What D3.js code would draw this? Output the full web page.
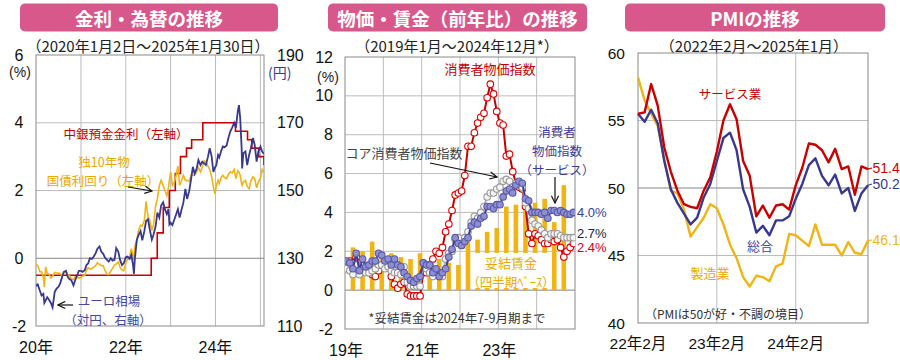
<!DOCTYPE html>
<html><head><meta charset="utf-8">
<script src="https://cdn.jsdelivr.net/npm/d3@7"></script>
<style>body{margin:0;background:#fff}svg{display:block}</style>
</head><body>
<script>
// ===================== DATA =====================
// Panel 1: daily data sampled (semi-monthly reading of the chart)
const fxDates = [
"2020-01-02","2020-01-15","2020-02-01","2020-02-15","2020-03-01","2020-03-09","2020-03-19","2020-04-01","2020-04-15","2020-05-01","2020-05-15","2020-06-01","2020-06-15","2020-07-01","2020-07-15","2020-08-01","2020-08-15","2020-09-01","2020-09-15","2020-10-01","2020-10-15","2020-11-01","2020-11-15","2020-12-01","2020-12-15",
"2021-01-01","2021-01-15","2021-02-01","2021-02-15","2021-03-01","2021-03-15","2021-04-01","2021-04-15","2021-05-01","2021-05-15","2021-06-01","2021-06-15","2021-07-01","2021-07-15","2021-08-01","2021-08-15","2021-09-01","2021-09-15","2021-10-01","2021-10-15","2021-11-01","2021-11-15","2021-12-01","2021-12-15",
"2022-01-01","2022-01-15","2022-02-01","2022-02-15","2022-03-01","2022-03-08","2022-03-15","2022-04-01","2022-04-15","2022-05-01","2022-05-15","2022-06-01","2022-06-15","2022-07-01","2022-07-15","2022-08-01","2022-08-15","2022-09-01","2022-09-15","2022-10-01","2022-10-15","2022-11-01","2022-11-15","2022-12-01","2022-12-15","2022-12-22",
"2023-01-01","2023-01-15","2023-02-01","2023-02-15","2023-03-01","2023-03-15","2023-04-01","2023-04-15","2023-05-01","2023-05-15","2023-06-01","2023-06-15","2023-07-01","2023-07-15","2023-08-01","2023-08-15","2023-09-01","2023-09-15","2023-10-01","2023-10-15","2023-11-01","2023-11-15","2023-12-01","2023-12-15","2023-12-28",
"2024-01-08","2024-01-22","2024-02-01","2024-02-15","2024-03-01","2024-03-15","2024-04-01","2024-04-15","2024-05-01","2024-05-15","2024-06-01","2024-06-15","2024-07-01","2024-07-10","2024-07-20","2024-08-01","2024-08-05","2024-08-15","2024-09-01","2024-09-15","2024-10-01","2024-10-15","2024-11-01","2024-11-15","2024-12-01","2024-12-15",
"2025-01-01","2025-01-15","2025-01-30"];
const eurJpy = [
121.8,122.3,120.5,119.0,119.5,116.8,117.5,118.5,117.8,116.8,115.5,120.0,121.0,121.5,122.5,124.5,126.0,126.3,124.5,123.8,123.5,122.0,123.5,125.0,126.3,
126.3,126.0,126.5,128.0,128.5,130.0,129.8,130.5,131.5,132.8,133.5,132.0,131.3,130.2,129.5,129.0,130.0,129.3,129.5,133.0,132.0,129.5,128.0,128.5,
130.3,130.5,129.8,131.0,128.0,125.4,129.5,135.5,136.8,138.0,135.3,138.0,141.0,141.5,138.5,135.5,137.0,139.5,143.5,142.0,145.5,146.5,144.5,143.0,144.5,140.0,
140.5,139.8,141.5,143.0,144.5,142.0,144.5,146.5,150.5,147.5,149.8,153.0,157.0,155.0,156.5,159.0,157.5,158.5,158.0,157.5,160.0,162.5,160.0,155.5,156.8,
157.5,160.5,159.8,161.5,163.0,162.8,163.3,165.5,167.5,168.5,170.0,168.5,173.5,175.2,171.5,162.5,156.5,161.0,161.5,157.5,160.5,162.5,165.5,163.5,158.5,161.5,
163.0,161.5,160.8];
const bund10y = [
-0.19,-0.21,-0.40,-0.40,-0.58,-0.85,-0.25,-0.45,-0.47,-0.58,-0.53,-0.42,-0.43,-0.44,-0.45,-0.53,-0.42,-0.40,-0.49,-0.53,-0.60,-0.63,-0.55,-0.55,-0.59,
-0.57,-0.53,-0.50,-0.35,-0.28,-0.32,-0.30,-0.26,-0.22,-0.13,-0.18,-0.22,-0.22,-0.35,-0.47,-0.48,-0.38,-0.30,-0.20,-0.17,-0.11,-0.27,-0.35,-0.37,
-0.14,-0.04,0.05,0.28,0.05,-0.05,0.35,0.55,0.83,0.97,0.95,1.12,1.68,1.22,1.13,0.82,1.00,1.55,1.75,2.15,2.30,2.15,2.00,1.85,2.10,2.30,
2.55,2.15,2.25,2.45,2.72,2.15,2.30,2.45,2.30,2.30,2.27,2.45,2.45,2.45,2.55,2.68,2.55,2.68,2.88,2.85,2.72,2.62,2.40,2.10,1.90,
2.15,2.30,2.20,2.38,2.45,2.38,2.35,2.48,2.55,2.52,2.62,2.35,2.58,2.55,2.45,2.20,2.15,2.25,2.30,2.12,2.05,2.28,2.40,2.35,2.08,2.25,
2.36,2.62,2.52];
const depoDates = ["2020-01-01","2022-07-27","2022-09-14","2022-11-02","2022-12-21","2023-02-08","2023-03-22","2023-05-10","2023-06-21","2023-09-20","2024-06-12","2024-09-18","2024-10-23","2024-12-18","2025-01-30"];
const depoRate  = [-0.5,0,0.75,1.5,2.0,2.5,3.0,3.25,3.5,4.0,3.75,3.5,3.25,3.0,2.75];
const p1LeftTicks = [-2,0,2,4,6];
const p1RightTicks = [110,130,150,170,190];
const p1XYears = [2020,2022,2024];
const p1XLabels = ["20年","22年","24年"];

// Panel 2: monthly 2019-01 .. 2024-12 (y/y %)
const cpi = [1.4,1.5,1.4,1.7,1.2,1.3,1.0,1.0,0.8,0.7,1.0,1.3,
 1.4,1.2,0.7,0.3,0.1,0.3,0.4,-0.2,-0.3,-0.3,-0.3,-0.3,
 0.9,0.9,1.3,1.6,2.0,1.9,2.2,3.0,3.4,4.1,4.9,5.0,
 5.1,5.9,7.4,7.4,8.1,8.6,8.9,9.1,9.9,10.6,10.1,9.2,
 8.6,8.5,6.9,7.0,6.1,5.5,5.3,5.2,4.3,2.9,2.4,2.9,
 2.8,2.6,2.4,2.4,2.6,2.5,2.6,2.2,1.7,2.0,2.2,2.4];
const coreCpi = [1.1,1.0,0.8,1.3,0.8,1.1,0.9,0.9,1.0,1.1,1.3,1.3,
 1.1,1.2,1.0,0.9,0.9,0.8,1.2,0.4,0.2,0.2,0.2,0.2,
 1.4,1.1,0.9,0.7,1.0,0.9,0.7,1.6,1.9,2.0,2.6,2.7,
 2.3,2.7,3.0,3.5,3.8,3.7,4.0,4.3,4.8,5.0,5.0,5.2,
 5.3,5.6,5.7,5.6,5.3,5.5,5.5,5.3,4.5,4.2,3.6,3.4,
 3.3,3.1,2.9,2.7,2.9,2.9,2.9,2.8,2.7,2.7,2.7,2.7];
const servCpi = [1.5,1.4,1.1,1.9,1.0,1.6,1.2,1.3,1.5,1.5,1.9,1.8,
 1.5,1.6,1.3,1.6,1.3,1.2,0.9,0.7,0.5,0.4,0.6,0.7,
 1.4,1.3,1.3,0.9,1.1,0.7,0.9,1.1,1.7,2.1,2.7,2.4,
 2.3,2.5,2.7,3.3,3.5,3.4,3.7,3.8,4.3,4.3,4.2,4.4,
 4.4,4.8,5.1,5.2,5.0,5.4,5.6,5.5,4.7,4.6,4.0,4.0,
 4.0,3.9,4.0,3.7,4.1,4.1,4.0,4.1,4.0,3.9,3.9,4.0];
// quarterly negotiated wages 2019Q1 .. 2024Q3
const wages = [2.2,2.0,2.5,1.9, 1.9,1.7,1.6,1.9, 1.5,1.6,1.4,1.3, 2.8,2.6,3.0,3.2, 4.3,4.4,4.7,4.5, 4.7,3.5,5.4];
const p2YTicks = [-2,0,2,4,6,8,10,12];
const p2XLabels = ["19年","21年","23年"];
const p2XMonths = [0,24,48];

// Panel 3: PMI 2022-02 .. 2025-01
const pmiServices = [55.5,55.6,57.7,56.1,53.0,51.2,49.8,48.8,48.6,48.5,49.8,50.8,
 52.7,55.0,56.2,55.1,52.0,50.9,47.9,48.7,47.8,48.7,48.8,48.4,
 50.2,51.5,53.3,53.2,52.8,51.9,52.9,51.4,51.6,49.5,51.6,51.4];
const pmiComposite = [55.5,54.9,55.8,54.8,52.0,49.9,48.9,48.1,47.3,47.8,49.3,50.3,
 52.0,53.7,54.1,52.8,49.9,48.6,46.7,47.2,46.5,47.6,47.6,47.9,
 49.2,50.3,51.7,52.2,50.9,50.2,51.0,49.6,50.0,48.3,49.6,50.2];
const pmiManufacturing = [58.2,56.5,55.5,54.6,52.1,49.8,49.6,48.4,46.4,47.1,47.8,48.8,
 48.5,47.3,45.8,44.8,43.4,42.7,43.5,43.4,43.1,44.2,44.4,46.6,
 46.5,46.1,45.7,47.3,45.8,45.8,45.8,45.0,46.0,45.2,45.1,46.1];
const p3YTicks = [40,45,50,55,60];
const p3XLabels = ["22年2月","23年2月","24年2月"];
const p3XMonths = [0,12,24];

// ===================== DRAW =====================
const JP = "'Noto Sans CJK JP','Noto Sans',sans-serif";
const NUM = "'Liberation Sans',Arial,'Noto Sans CJK JP',sans-serif";
const PINK = "#d8588c", RED = "#c80000", NAVY = "#383890", GOLD = "#f0b414",
      GRID = "#bcbcbc", DARK = "#858585", BORDER = "#8a8a8a";

const svg = d3.select("body").append("svg").attr("width",900).attr("height",360)
  .style("background","#fff");
const defs = svg.append("defs");
defs.append("marker").attr("id","arr").attr("viewBox","0 0 10 10").attr("refX",9).attr("refY",5)
  .attr("markerWidth",9).attr("markerHeight",9).attr("markerUnits","userSpaceOnUse").attr("orient","auto")
  .append("path").attr("d","M1,1 L9,5 L1,9").attr("fill","none").attr("stroke","#111").attr("stroke-width",1.3);

function txt(x,y,s,o={}) {
  return svg.append("text").attr("x",x).attr("y",y).attr("dominant-baseline","central")
    .attr("text-anchor",o.anchor||"middle").attr("font-size",o.size||13)
    .attr("font-family",o.font||JP).attr("fill",o.fill||"#222")
    .attr("font-weight",o.weight||"normal").text(s);
}
function arrow(x0,y0,x1,y1) {
  svg.append("line").attr("x1",x0).attr("y1",y0).attr("x2",x1).attr("y2",y1)
    .attr("stroke","#111").attr("stroke-width",1.2).attr("marker-end","url(#arr)");
}
function titleBox(x,w,s) {
  svg.append("rect").attr("x",x).attr("y",3.5).attr("width",w).attr("height",28).attr("rx",5).attr("fill",PINK);
  txt(x+w/2,18,s,{fill:"#fff",size:18.5,weight:"bold"});
}
function clip(id,x,y,w,h){ defs.append("clipPath").attr("id",id).append("rect").attr("x",x).attr("y",y).attr("width",w).attr("height",h); }
function hline(x0,x1,y,c){ svg.append("line").attr("x1",x0).attr("x2",x1).attr("y1",y).attr("y2",y).attr("stroke",c).attr("stroke-width",1); }
function vline(x,y0,y1,c){ svg.append("line").attr("x1",x).attr("x2",x).attr("y1",y0).attr("y2",y1).attr("stroke",c).attr("stroke-width",1); }

// ---------- Panel 1 ----------
const parse = d3.timeParse("%Y-%m-%d");
const x1 = d3.scaleTime().domain([new Date(2020,0,1), new Date(2025,0,30)]).range([36,264]);
const y1L = d3.scaleLinear().domain([-2,6]).range([326,55]);
const y1R = d3.scaleLinear().domain([110,190]).range([326,55]);
titleBox(20,258,"金利・為替の推移");
txt(148,45,"（2020年1月2日～2025年1月30日）",{size:15});
[2021,2022,2023,2024,2025].forEach(yr=>vline(x1(new Date(yr,0,1)),55,326,GRID));
[2,4].forEach(v=>hline(36,264,y1L(v),GRID));
hline(36,264,y1L(0),DARK);
svg.append("rect").attr("x",36).attr("y",55).attr("width",228).attr("height",271).attr("fill","none").attr("stroke",BORDER);
svg.selectAll(null).data(p1LeftTicks).join("text").attr("x",19).attr("y",d=>y1L(d)).attr("dominant-baseline","central")
  .attr("text-anchor","middle").attr("font-family",NUM).attr("font-size",16).attr("fill","#111").text(d=>d);
txt(20,72,"(%)",{size:14,font:NUM,fill:"#222"});
svg.selectAll(null).data(p1RightTicks).join("text").attr("x",277).attr("y",d=>y1R(d)).attr("dominant-baseline","central")
  .attr("text-anchor","start").attr("font-family",NUM).attr("font-size",16).attr("fill","#111").text(d=>d);
txt(268,72,"(円)",{size:14,anchor:"start",fill:"#3a3a90"});
svg.selectAll(null).data(p1XYears).join("text").attr("x",d=>x1(new Date(d,0,1))).attr("y",347).attr("dominant-baseline","central")
  .attr("text-anchor","middle").attr("font-family",NUM).attr("font-size",16).attr("fill","#111").text((d,i)=>p1XLabels[i]);
clip("c1",36,55,228,271);
const g1 = svg.append("g").attr("clip-path","url(#c1)");
const depo = depoDates.map((d,i)=>({d:parse(d),v:depoRate[i]}));
const fx = fxDates.map((d,i)=>({d:parse(d),e:eurJpy[i],b:bund10y[i]}));
g1.append("path").datum(depo).attr("fill","none").attr("stroke",RED).attr("stroke-width",1.6)
  .attr("d",d3.line().curve(d3.curveStepAfter).x(d=>x1(d.d)).y(d=>y1L(d.v)));
g1.append("path").datum(fx).attr("fill","none").attr("stroke",GOLD).attr("stroke-width",1.6)
  .attr("d",d3.line().x(d=>x1(d.d)).y(d=>y1L(d.b)));
g1.append("path").datum(fx).attr("fill","none").attr("stroke",NAVY).attr("stroke-width",1.8)
  .attr("d",d3.line().x(d=>x1(d.d)).y(d=>y1R(d.e)));
txt(126,133,"中銀預金金利（左軸）",{fill:"#c00000",size:12.5});
txt(104,161,"独10年物",{fill:"#eaa800",size:12.5});
txt(103,180,"国債利回り（左軸）",{fill:"#eaa800",size:12.5});
arrow(128,187,152,191);
txt(109,300,"ユーロ相場",{fill:"#4646a0",size:12.5});
txt(108,319,"（対円、右軸）",{fill:"#4646a0",size:12.5});
arrow(73,305,58,305);

// ---------- Panel 2 ----------
const x2 = d3.scaleLinear().domain([0,72]).range([345,575]);
const y2 = d3.scaleLinear().domain([-2,12]).range([329,57]);
titleBox(328,259,"物価・賃金（前年比）の推移");
txt(457,45,"（2019年1月～2024年12月*）",{size:15});
[12,24,36,48,60].forEach(m=>vline(x2(m),57,329,GRID));
[2,4,6,8,10].forEach(v=>hline(345,575,y2(v),GRID));
hline(345,575,y2(0),DARK);
svg.append("rect").attr("x",345).attr("y",57).attr("width",230).attr("height",272).attr("fill","none").attr("stroke",BORDER);
svg.selectAll(null).data(p2YTicks).join("text").attr("x",333).attr("y",d=>y2(d)).attr("dominant-baseline","central")
  .attr("text-anchor","end").attr("font-family",NUM).attr("font-size",16).attr("fill","#111").text(d=>d);
txt(328,77,"(%)",{size:14,font:NUM});
svg.selectAll(null).data(p2XMonths).join("text").attr("x",d=>x2(d)+1).attr("y",350).attr("dominant-baseline","central")
  .attr("text-anchor","middle").attr("font-family",NUM).attr("font-size",16).attr("fill","#111").text((d,i)=>p2XLabels[i]);
clip("c2",345,57,230,272);
const g2 = svg.append("g").attr("clip-path","url(#c2)");
g2.selectAll("rect.bar").data(wages).join("rect").attr("class","bar")
  .attr("x",(d,i)=>x2(i*3+2.5)-2.3).attr("width",4.6)
  .attr("y",d=>y2(d)).attr("height",d=>y2(0)-y2(d)).attr("fill",GOLD);
svg.append("rect").attr("x",471).attr("y",253).attr("width",81).attr("height",35).attr("fill","#fff");
txt(511,262,"妥結賃金",{fill:"#eaa800",size:13});
txt(511,281,"（四半期ﾍﾞｰｽ）",{fill:"#eaa800",size:12.5});
function series(g,arr,line,stroke,fill) {
  const pts = arr.map((v,i)=>({i,v}));
  g.append("path").datum(pts).attr("fill","none").attr("stroke",line).attr("stroke-width",2)
    .attr("d",d3.line().x(d=>x2(d.i+0.5)).y(d=>y2(d.v)));
  g.selectAll(null).data(pts).join("circle").attr("cx",d=>x2(d.i+0.5)).attr("cy",d=>y2(d.v)).attr("r",3.3)
    .attr("fill",fill).attr("stroke",stroke).attr("stroke-width",1.1);
}
series(g2,cpi,"#c80000","#d80000","#fff");
series(g2,coreCpi,"#a8a8a8","#9a9a9a","#f4f4f4");
series(g2,servCpi,"#3c3c96","#5a5aa8","#8e8ed2");
txt(490,68,"消費者物価指数",{fill:"#c00000",size:13});
txt(404,152,"コア消費者物価指数",{fill:"#444",size:13});
arrow(430,163,497,177);
txt(557,131,"消費者",{fill:"#3c3c96",size:12.5});
txt(557,150,"物価指数",{fill:"#3c3c96",size:12.5});
txt(557,169,"（サービス）",{fill:"#3c3c96",size:12.5});
arrow(555,177,555,203);
txt(577,212,"4.0%",{anchor:"start",font:NUM,fill:"#3c3c96",size:13});
txt(577,233,"2.7%",{anchor:"start",font:NUM,fill:"#222244",size:13});
txt(577,247,"2.4%",{anchor:"start",font:NUM,fill:"#d0002a",size:13});
txt(457,317,"*妥結賃金は2024年7-9月期まで",{fill:"#333",size:12.5});

// ---------- Panel 3 ----------
const x3 = d3.scaleLinear().domain([0,35]).range([638,868]);
const y3 = d3.scaleLinear().domain([40,60]).range([323,53]);
titleBox(625,260,"PMIの推移");
txt(754,45,"（2022年2月～2025年1月）",{size:15});
[12,24].forEach(m=>vline(x3(m),53,323,GRID));
[45,55].forEach(v=>hline(638,868,y3(v),GRID));
hline(638,868,y3(50),DARK);
svg.append("rect").attr("x",638).attr("y",53).attr("width",230).attr("height",270).attr("fill","none").attr("stroke",BORDER);
svg.selectAll(null).data(p3YTicks).join("text").attr("x",625).attr("y",d=>y3(d)).attr("dominant-baseline","central")
  .attr("text-anchor","end").attr("font-family",NUM).attr("font-size",15.5).attr("fill","#111").text(d=>d);
svg.selectAll(null).data(p3XMonths).join("text").attr("x",d=>x3(d)).attr("y",343).attr("dominant-baseline","central")
  .attr("text-anchor","middle").attr("font-family",NUM).attr("font-size",15.5).attr("fill","#111").text((d,i)=>p3XLabels[i]);
const g3 = svg.append("g");
[[pmiManufacturing,GOLD],[pmiComposite,NAVY],[pmiServices,RED]].forEach(([arr,c])=>{
  g3.append("path").datum(arr).attr("fill","none").attr("stroke",c).attr("stroke-width",2.4).attr("stroke-linejoin","round")
    .attr("d",d3.line().x((d,i)=>x3(i)).y(d=>y3(d)));
});
[[pmiServices,RED,168],[pmiComposite,NAVY,184],[pmiManufacturing,GOLD,240]].forEach(([arr,c,ly])=>{
  const last = arr[arr.length-1];
  svg.append("line").attr("x1",x3(35)).attr("y1",y3(last)).attr("x2",x3(35)+4).attr("y2",ly).attr("stroke",c).attr("stroke-width",1.2);
  txt(x3(35)+4.5,ly,last.toFixed(1),{anchor:"start",font:NUM,fill:c,size:14});
});
txt(730,93,"サービス業",{fill:"#c00000",size:12.5});
txt(760,245,"総合",{fill:"#4646a0",size:13});
txt(710,272,"製造業",{fill:"#eaa800",size:13});
txt(728,313,"（PMIは50が好・不調の境目）",{fill:"#333",size:12});
</script>
</body></html>
